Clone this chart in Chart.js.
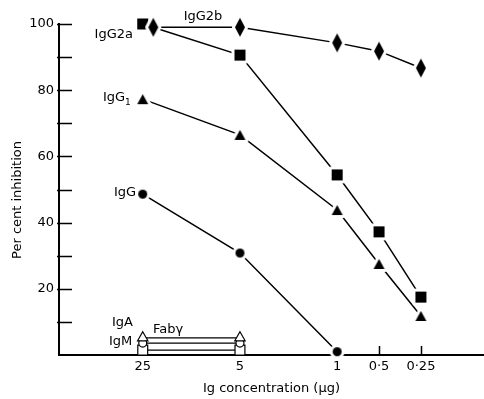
<!DOCTYPE html>
<html>
<head>
<meta charset="utf-8">
<script src="https://cdn.jsdelivr.net/npm/chart.js@4.4.0/dist/chart.umd.min.js"></script>
<style>
  html, body { margin: 0; padding: 0; background: #fff; }
  #wrap { width: 484px; height: 399px; }
</style>
</head>
<body>
<div id="wrap"><canvas id="chart"></canvas></div>
<script>
// x axis: Ig concentration (ug), log scale running right to left
const concTicks = [25, 5, 1, 0.5, 0.25];
const concLabels = ['25', '5', '1', '0·5', '0·25'];
const pctTicks = [10, 20, 30, 40, 50, 60, 70, 80, 90, 100];

const conc = [25, 5, 1, 0.5, 0.25];
const igG2bConc = [21, 5, 1, 0.5, 0.25];   // first diamond is drawn a little off the 25 line
const igG2b = [99, 99, 94.3, 91.8, 86.7];
const igG2a = [100, 90.6, 54.4, 37.2, 17.5];
const igG1 = [77.3, 66.5, 43.8, 27.5, 11.8];
const igGConc = [25, 5, 1];
const igG = [48.6, 30.8, 1];
const lowConc = [25, 5];
const igA = [5.2, 5.2];
const igM = [3.6, 3.6];
const fabG = [1.5, 1.5];

const FONT = '"DejaVu Sans", sans-serif';

// filled black marker with a white halo so the joining lines stop short of it
function marker(w, h, path) {
    const halo = 3;
    const c = document.createElement('canvas');
    c.width = w + halo * 2 + 2;
    c.height = h + halo * 2 + 2;
    const g = c.getContext('2d');
    g.translate(c.width / 2, c.height / 2);
    path(g, w / 2, h / 2);
    g.lineWidth = halo * 2;
    g.strokeStyle = '#fff';
    g.lineJoin = 'round';
    g.stroke();
    path(g, w / 2, h / 2);
    g.fillStyle = '#000';
    g.fill();
    return c;
}
const diamond = marker(10, 19, (g, a, b) => { g.beginPath(); g.moveTo(0, -b); g.lineTo(a, 0); g.lineTo(0, b); g.lineTo(-a, 0); g.closePath(); });
const square = marker(11, 11, (g, a, b) => { g.beginPath(); g.rect(-a, -b, 2 * a, 2 * b); });
const triangle = marker(11, 10, (g, a, b) => { g.beginPath(); g.moveTo(0, -b); g.lineTo(a, b); g.lineTo(-a, b); g.closePath(); });
const dot = marker(9, 9, (g, a) => { g.beginPath(); g.arc(0, 0, a, 0, Math.PI * 2); });

const pts = (xs, ys) => xs.map((x, i) => ({ x: x, y: ys[i] }));

function series(data, style) {
    return {
        data: data,
        borderColor: '#000',
        borderWidth: 1.5,
        pointStyle: style,
        pointRadius: 6,
        pointHoverRadius: 6,
        clip: false
    };
}
function openSeries(data, style, r) {
    return {
        data: data,
        borderColor: '#000',
        borderWidth: 1.2,
        pointStyle: style,
        pointRadius: r,
        pointHoverRadius: r,
        pointBackgroundColor: '#fff',
        pointBorderColor: '#000',
        pointBorderWidth: 1.2,
        clip: false
    };
}

// ticks point inward, into the plot
const inwardTicks = {
    id: 'inwardTicks',
    beforeDatasetsDraw(chart) {
        const { ctx, scales: { x, y }, chartArea } = chart;
        ctx.save();
        ctx.strokeStyle = '#000';
        ctx.lineWidth = 1.5;
        ctx.beginPath();
        pctTicks.forEach(v => {
            const py = Math.round(y.getPixelForValue(v)) + 0.5;
            ctx.moveTo(chartArea.left - 2, py);
            ctx.lineTo(chartArea.left + 13, py);
        });
        concTicks.forEach(v => {
            const px = Math.round(x.getPixelForValue(v)) + 0.5;
            ctx.moveTo(px, chartArea.bottom);
            ctx.lineTo(px, chartArea.bottom - 9);
        });
        ctx.stroke();
        ctx.restore();
    }
};

const labels = {
    id: 'labels',
    afterDraw(chart) {
        const ctx = chart.ctx;
        ctx.save();
        ctx.fillStyle = '#000';
        ctx.font = '13px ' + FONT;
        ctx.textBaseline = 'middle';
        ctx.textAlign = 'center';
        ctx.fillText('IgG2b', 203, 17);
        ctx.textAlign = 'right';
        ctx.fillText('IgG2a', 133, 35);
        ctx.textAlign = 'left';
        ctx.fillText('IgG', 103, 98);
        ctx.font = '9px ' + FONT;
        ctx.fillText('1', 125, 103);
        ctx.font = '13px ' + FONT;
        ctx.fillText('IgG', 114, 193);
        ctx.fillText('IgA', 112, 323);
        ctx.fillText('IgM', 109, 342);
        ctx.fillText('Fabγ', 153, 330);
        ctx.translate(18, 200);
        ctx.rotate(-Math.PI / 2);
        ctx.textAlign = 'center';
        ctx.fillText('Per cent inhibition', 0, 0);
        ctx.restore();
    }
};

new Chart(document.getElementById('chart'), {
    type: 'line',
    data: {
        datasets: [
            series(pts(igG2bConc, igG2b), diamond),
            series(pts(conc, igG2a), square),
            series(pts(conc, igG1), triangle),
            series(pts(igGConc, igG), dot),
            openSeries(pts(lowConc, igA), 'triangle', 6),
            openSeries(pts(lowConc, igM), 'circle', 4),
            openSeries(pts(lowConc, fabG), 'rect', 7)
        ]
    },
    options: {
        responsive: true,
        maintainAspectRatio: false,
        animation: false,
        events: [],
        layout: { autoPadding: false, padding: { top: 24, right: 0, bottom: 0, left: 0 } },
        plugins: { legend: { display: false }, tooltip: { enabled: false } },
        scales: {
            x: {
                type: 'logarithmic',
                reverse: true,
                min: 0.088,
                max: 100,
                bounds: 'data',
                afterBuildTicks: s => { s.ticks = concTicks.map(v => ({ value: v })); },
                afterFit: s => { s.height = 44; s.paddingLeft = 0; s.paddingRight = 0; },
                grid: { display: false, drawTicks: false },
                border: { display: true, color: '#000', width: 2 },
                ticks: {
                    autoSkip: false,
                    maxRotation: 0,
                    padding: 4,
                    color: '#000',
                    font: { family: FONT, size: 13 },
                    callback: (v, i) => concLabels[i]
                },
                title: {
                    display: true,
                    text: 'Ig concentration (μg)',
                    color: '#000',
                    font: { family: FONT, size: 13 },
                    padding: { top: 0, bottom: 3 }
                }
            },
            y: {
                min: 0,
                max: 100,
                afterBuildTicks: s => { s.ticks = pctTicks.map(v => ({ value: v })); },
                afterFit: s => { s.width = 59; s.paddingTop = 0; s.paddingBottom = 0; },
                grid: { display: false, drawTicks: false },
                border: { display: true, color: '#000', width: 2 },
                ticks: {
                    padding: 5,
                    color: '#000',
                    font: { family: FONT, size: 13 },
                    callback: v => (v % 20 === 0 ? String(v) : '')
                }
            }
        }
    },
    plugins: [inwardTicks, labels]
});
</script>
</body>
</html>
